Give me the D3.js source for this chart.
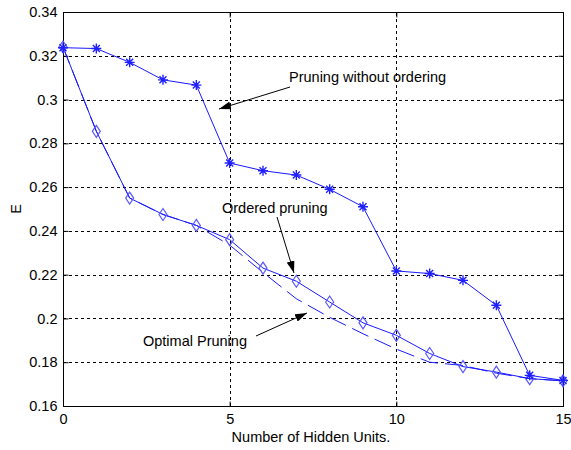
<!DOCTYPE html>
<html>
<head>
<meta charset="utf-8">
<script src="https://cdn.jsdelivr.net/npm/d3@7"></script>
<style>
	body { margin: 0; background: #fff; }
	svg text { font-family: "Liberation Sans", Arial, sans-serif; font-size: 14.5px; fill: #000; }
</style>
</head>
<body>
<svg id="chart" width="571" height="450"></svg>
<script>
const hiddenUnits = d3.range(0, 16);
const withoutOrdering = [0.3237, 0.3233, 0.317, 0.309, 0.3066, 0.271, 0.2675, 0.2655, 0.259, 0.251, 0.2217, 0.2205, 0.2174, 0.206, 0.174, 0.1717];
const orderedPruning = [0.324, 0.2855, 0.255, 0.2475, 0.2425, 0.236, 0.223, 0.217, 0.2075, 0.198, 0.1923, 0.184, 0.178, 0.1755, 0.1725, 0.1715];
const optimalPruning = [0.324, 0.2855, 0.255, 0.2475, 0.2425, 0.2335, 0.221, 0.209, 0.2005, 0.193, 0.186, 0.18, 0.1785, 0.175, 0.1725, 0.1715];
const xTicks = [0, 5, 10, 15];
const yTicks = [0.16, 0.18, 0.2, 0.22, 0.24, 0.26, 0.28, 0.3, 0.32, 0.34];
const annotations = [
	{ text: "Pruning without ordering", tx: 289, ty: 82, from: [290, 87], to: [219, 109] },
	{ text: "Ordered pruning", tx: 222, ty: 213, from: [277, 217], to: [294, 273] },
	{ text: "Optimal Pruning", tx: 143, ty: 346, from: [256, 336], to: [307, 313] }
];

const margin = { left: 63, right: 8, top: 12, bottom: 44 };
const width = 571, height = 450;
const svg = d3.select("#chart");

const x = d3.scaleLinear().domain([0, 15]).range([margin.left, width - margin.right]);
const y = d3.scaleLinear().domain([0.16, 0.34]).range([height - margin.bottom, margin.top]);
const px = v => Math.round(v) + 0.5;

// grid
const grid = svg.append("g").attr("stroke", "#000").attr("stroke-dasharray", "3,3").attr("stroke-width", 1);
grid.selectAll("line.v").data(xTicks.slice(1, -1)).enter().append("line")
	.attr("x1", d => px(x(d))).attr("x2", d => px(x(d)))
	.attr("y1", y(0.16)).attr("y2", y(0.34));
grid.selectAll("line.h").data(yTicks.slice(1, -1)).enter().append("line")
	.attr("y1", d => px(y(d))).attr("y2", d => px(y(d)))
	.attr("x1", x(0)).attr("x2", x(15));

// axes (MATLAB style: ticks inside on all four sides)
const styleAxis = g => {
	g.select(".domain").remove();
	g.selectAll("text").style("font-size", null).style("font-family", null);
	g.selectAll(".tick line").attr("stroke", "#000");
};
svg.append("g").attr("transform", `translate(0,${px(y(0.16))})`)
	.call(d3.axisBottom(x).tickValues(xTicks).tickSizeInner(-5).tickSizeOuter(0).tickPadding(7).tickFormat(d3.format("d")))
	.call(styleAxis);
svg.append("g").attr("transform", `translate(0,${px(y(0.34))})`)
	.call(d3.axisTop(x).tickValues(xTicks).tickSizeInner(-5).tickSizeOuter(0).tickFormat(""))
	.call(styleAxis);
svg.append("g").attr("transform", `translate(${px(x(0))},0)`)
	.call(d3.axisLeft(y).tickValues(yTicks).tickSizeInner(-5).tickSizeOuter(0).tickPadding(6).tickFormat(d => String(+d.toFixed(2))))
	.call(styleAxis);
svg.append("g").attr("transform", `translate(${px(x(15))},0)`)
	.call(d3.axisRight(y).tickValues(yTicks).tickSizeInner(-5).tickSizeOuter(0).tickFormat(""))
	.call(styleAxis);

svg.append("rect")
	.attr("x", px(x(0))).attr("y", px(y(0.34)))
	.attr("width", Math.round(x(15) - x(0))).attr("height", Math.round(y(0.16) - y(0.34)))
	.attr("fill", "none").attr("stroke", "#000");

svg.append("text").attr("x", (x(0) + x(15)) / 2 - 2).attr("y", 442).attr("text-anchor", "middle")
	.text("Number of Hidden Units.");
svg.append("text").attr("transform", `translate(21,${(y(0.16) + y(0.34)) / 2}) rotate(-90)`)
	.attr("text-anchor", "middle").text("E");

// series
const line = d3.line().x((d, i) => x(hiddenUnits[i])).y(d => y(d));
const blue = "#1a1aff";

svg.append("path").datum(optimalPruning).attr("d", line)
	.attr("fill", "none").attr("stroke", blue).attr("stroke-dasharray", "18,7");
svg.append("path").datum(orderedPruning).attr("d", line)
	.attr("fill", "none").attr("stroke", blue);
svg.append("path").datum(withoutOrdering).attr("d", line)
	.attr("fill", "none").attr("stroke", blue);

svg.append("g").selectAll("path").data(orderedPruning).enter().append("path")
	.attr("transform", (d, i) => `translate(${x(hiddenUnits[i])},${y(d)})`)
	.attr("d", "M0,-6L4,0L0,6L-4,0Z")
	.attr("fill", "none").attr("stroke", "#5a5aff").attr("stroke-width", 1.2);

svg.append("g").selectAll("path").data(withoutOrdering).enter().append("path")
	.attr("transform", (d, i) => `translate(${x(hiddenUnits[i])},${y(d)})`)
	.attr("d", "M0,-5V5M-5,0H5M-3.5,-3.5L3.5,3.5M-3.5,3.5L3.5,-3.5")
	.attr("fill", "none").attr("stroke", "#2020ff").attr("stroke-width", 1.4);

// annotations
svg.append("defs").append("marker").attr("id", "arrow")
	.attr("viewBox", "0 -4 12 8").attr("refX", 12).attr("refY", 0)
	.attr("markerWidth", 12).attr("markerHeight", 8).attr("markerUnits", "userSpaceOnUse")
	.attr("orient", "auto")
	.append("path").attr("d", "M0,-4L12,0L0,4Z").attr("fill", "#000");

const ann = svg.append("g");
ann.selectAll("line").data(annotations).enter().append("line")
	.attr("x1", d => d.from[0]).attr("y1", d => d.from[1])
	.attr("x2", d => d.to[0]).attr("y2", d => d.to[1])
	.attr("stroke", "#000").attr("marker-end", "url(#arrow)");
ann.selectAll("text").data(annotations).enter().append("text")
	.attr("x", d => d.tx).attr("y", d => d.ty).text(d => d.text);
</script>
</body>
</html>
